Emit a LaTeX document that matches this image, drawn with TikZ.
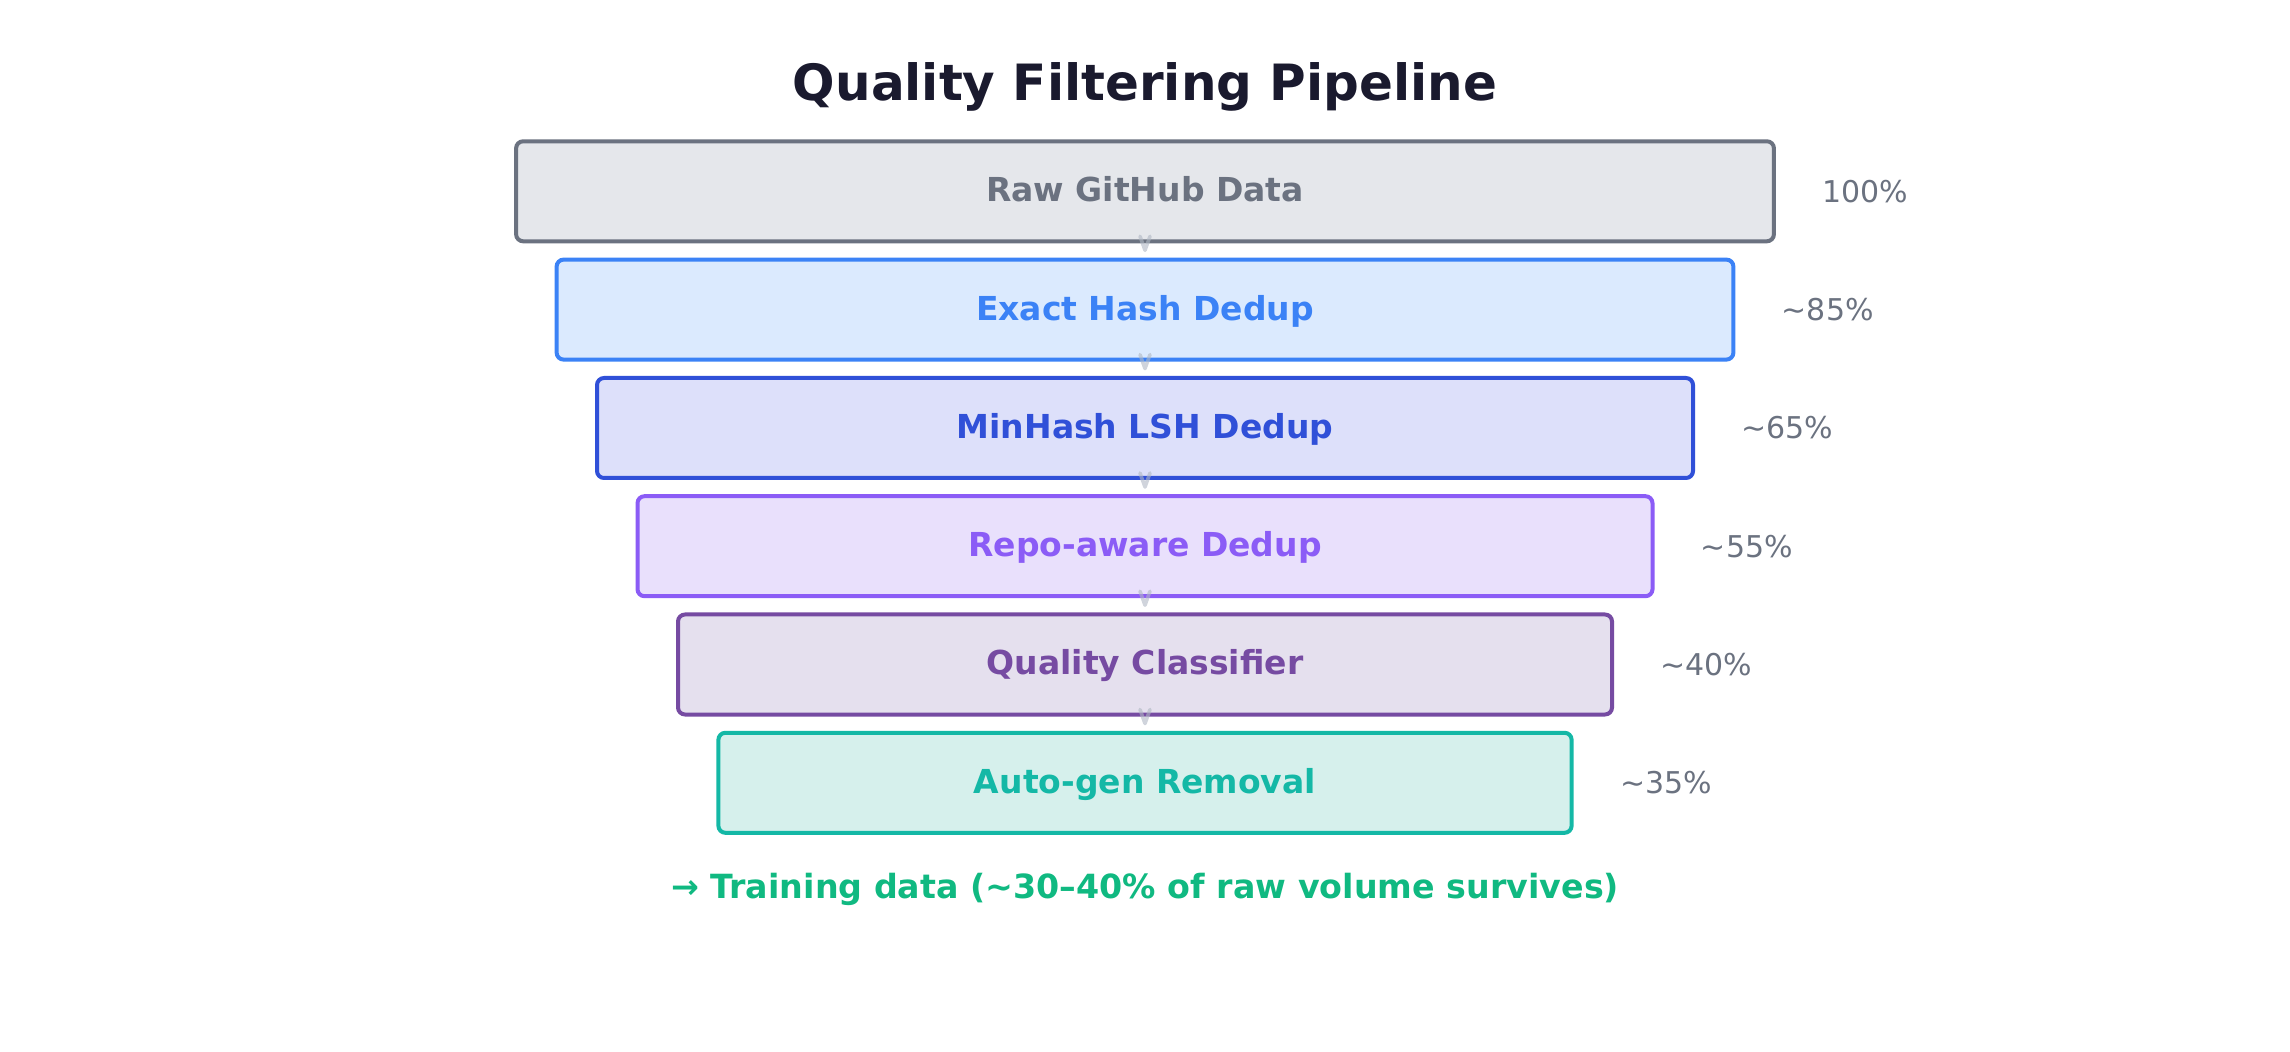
\documentclass[tikz,border=0pt]{standalone}
\usepackage{fontspec}
\setmainfont{DejaVu Sans}
\usetikzlibrary{positioning}
\definecolor{titleink}{HTML}{1A1A2E}
\definecolor{rawline}{HTML}{6B7280}
\definecolor{rawfill}{HTML}{E5E7EB}
\definecolor{hashline}{HTML}{3B82F6}
\definecolor{hashfill}{HTML}{DBEAFE}
\definecolor{minline}{HTML}{3050D8}
\definecolor{minfill}{HTML}{DDE0FA}
\definecolor{repoline}{HTML}{8B5CF6}
\definecolor{repofill}{HTML}{E9E0FC}
\definecolor{qualline}{HTML}{764BA2}
\definecolor{qualfill}{HTML}{E5E0EE}
\definecolor{autoline}{HTML}{14B8A6}
\definecolor{autofill}{HTML}{D6F0EC}
\definecolor{keepgreen}{HTML}{10B981}
\definecolor{chevgray}{HTML}{B0B8C4}

\begin{document}
\begin{tikzpicture}[x=0.5pt, y=-0.5pt,
    stage/.style={draw, line width=2pt, rounded corners=3.5pt, minimum height=50pt,
        font=\bfseries\fontsize{16.5}{20}\selectfont, text height=12pt, text depth=1.5pt},
    share/.style={inner sep=0pt, text=rawline, font=\fontsize{15}{18}\selectfont},
    chevline/.style={chevgray, opacity=0.6, line width=1.8pt, line cap=round, line join=round}]
    \useasboundingbox (0,0) rectangle (2290,1052);

    % Title
    \node[text=titleink, font=\bfseries\fontsize{25}{30}\selectfont] (title) at (1145,87) {Quality Filtering Pipeline};

    % Filter stages
    \node[stage, minimum width=628.9pt, fill=rawfill, draw=rawline, text=rawline] (raw) at (1145,191.3) {Raw GitHub Data};
    \node[stage, minimum width=588.4pt, fill=hashfill, draw=hashline, text=hashline] (hash) at (1145,309.6) {Exact Hash Dedup};
    \node[stage, minimum width=548pt, fill=minfill, draw=minline, text=minline] (minhash) at (1145,428) {MinHash LSH Dedup};
    \node[stage, minimum width=507.5pt, fill=repofill, draw=repoline, text=repoline] (repo) at (1145,546.2) {Repo-aware Dedup};
    \node[stage, minimum width=467pt, fill=qualfill, draw=qualline, text=qualline] (qual) at (1145,664.5) {Quality Classifier};
    \node[stage, minimum width=426.6pt, fill=autofill, draw=autoline, text=autoline] (auto) at (1145,782.8) {Auto-gen Removal};

    % Chevrons between stages
    \draw[chevline] ([shift={(-2.5pt,3.5pt)}]raw.south) -- ([yshift=-3.5pt]raw.south) -- ([shift={(2.5pt,3.5pt)}]raw.south);
    \draw[chevline] ([shift={(-2.5pt,3.5pt)}]hash.south) -- ([yshift=-3.5pt]hash.south) -- ([shift={(2.5pt,3.5pt)}]hash.south);
    \draw[chevline] ([shift={(-2.5pt,3.5pt)}]minhash.south) -- ([yshift=-3.5pt]minhash.south) -- ([shift={(2.5pt,3.5pt)}]minhash.south);
    \draw[chevline] ([shift={(-2.5pt,3.5pt)}]repo.south) -- ([yshift=-3.5pt]repo.south) -- ([shift={(2.5pt,3.5pt)}]repo.south);
    \draw[chevline] ([shift={(-2.5pt,3.5pt)}]qual.south) -- ([yshift=-3.5pt]qual.south) -- ([shift={(2.5pt,3.5pt)}]qual.south);

    % Remaining share
    \node[share, right=23pt of raw] (praw) {100\%};
    \node[share, right=23pt of hash] (phash) {\textasciitilde85\%};
    \node[share, right=23pt of minhash] (pminhash) {\textasciitilde65\%};
    \node[share, right=23pt of repo] (prepo) {\textasciitilde55\%};
    \node[share, right=23pt of qual] (pqual) {\textasciitilde40\%};
    \node[share, right=23pt of auto] (pauto) {\textasciitilde35\%};

    % Result
    \node[text=keepgreen, font=\bfseries\fontsize{16.65}{20}\selectfont] (result) at (1145,889.5) {→ Training data (\textasciitilde30–40\% of raw volume survives)};
\end{tikzpicture}
\end{document}
